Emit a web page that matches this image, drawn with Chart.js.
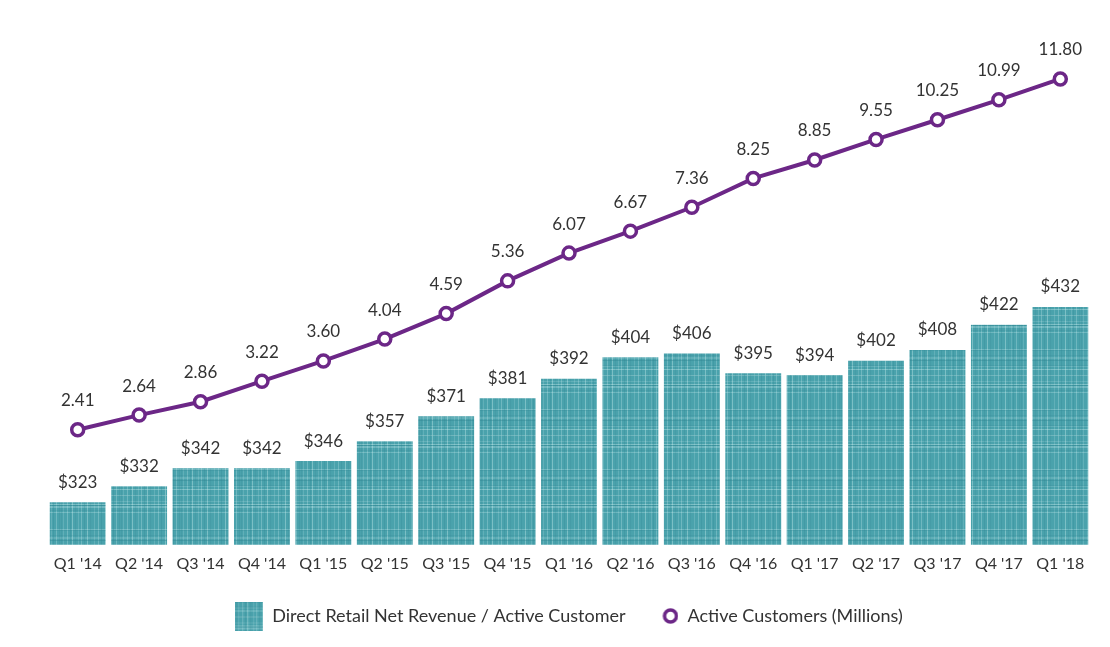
<!DOCTYPE html>
<html lang="en">
<head>
    <meta charset="UTF-8">
    <title>Revenue per Active Customer</title>
    <script src="https://cdn.jsdelivr.net/npm/chart.js"></script>
    <style>
        body { margin: 0; background: #fff; }
    </style>
</head>
<body>
    <canvas id="mainChart" width="1110" height="647"></canvas>

    <script>
        // Data
        var quarters = ["Q1 '14", "Q2 '14", "Q3 '14", "Q4 '14", "Q1 '15", "Q2 '15", "Q3 '15", "Q4 '15",
                        "Q1 '16", "Q2 '16", "Q3 '16", "Q4 '16", "Q1 '17", "Q2 '17", "Q3 '17", "Q4 '17", "Q1 '18"];
        var revenuePerCustomer = [323, 332, 342, 342, 346, 357, 371, 381, 392, 404, 406, 395, 394, 402, 408, 422, 432];
        var activeCustomers = [2.41, 2.64, 2.86, 3.22, 3.60, 4.04, 4.59, 5.36, 6.07, 6.67, 7.36, 8.25, 8.85, 9.55, 10.25, 10.99, 11.80];

        var TEAL = '#4aa2ac';
        var PURPLE = '#6c2787';
        var FONT = 'Lato, "Open Sans", sans-serif';

        // power scale (v^0.4): the customer line in the original is compressed at the top like this
        var EXP = 0.4;
        class PowerScale extends Chart.LinearScale {
            getPixelForValue(v) {
                var a = Math.pow(this.min, EXP), b = Math.pow(this.max, EXP);
                return this.getPixelForDecimal((Math.pow(Math.max(v, 0), EXP) - a) / (b - a));
            }
            getValueForPixel(p) {
                var a = Math.pow(this.min, EXP), b = Math.pow(this.max, EXP);
                return Math.pow(a + this.getDecimalForPixel(p) * (b - a), 1 / EXP);
            }
        }
        PowerScale.id = 'power';
        PowerScale.defaults = {};
        Chart.register(PowerScale);

        // woven texture for the bars
        function makeWeave(size) {
            var c = document.createElement('canvas');
            c.width = size; c.height = size;
            var g = c.getContext('2d');
            g.fillStyle = TEAL;
            g.fillRect(0, 0, size, size);
            var light = [3, 7, 12, 18, 21, 27, 34, 38, 45, 51, 56];
            var dark = [1, 10, 15, 24, 30, 41, 48, 53, 59];
            light.forEach(function (p, i) {
                g.fillStyle = 'rgba(205,238,240,' + (0.18 + (i % 3) * 0.1) + ')';
                if (p < size) { g.fillRect(p, 0, 1, size); g.fillRect(0, (p * 7) % size, size, 1); }
            });
            dark.forEach(function (p, i) {
                g.fillStyle = 'rgba(45,130,142,' + (0.15 + (i % 2) * 0.1) + ')';
                if (p < size) { g.fillRect(p, 0, 1, size); g.fillRect(0, (p * 5) % size, size, 1); }
            });
            return c;
        }
        var weave = makeWeave(60);
        var ctx = document.getElementById('mainChart').getContext('2d');
        var barPattern = ctx.createPattern(weave, 'repeat');

        // legend markers (28px wide so the text lines up after both)
        var barIcon = document.createElement('canvas');
        barIcon.width = 28; barIcon.height = 29;
        barIcon.getContext('2d').drawImage(weave, 0, 0);
        var dotIcon = document.createElement('canvas');
        dotIcon.width = 28; dotIcon.height = 18;
        (function () {
            var g = dotIcon.getContext('2d');
            g.beginPath();
            g.arc(20, 9, 6, 0, Math.PI * 2);
            g.fillStyle = '#fff';
            g.fill();
            g.lineWidth = 3.5;
            g.strokeStyle = PURPLE;
            g.stroke();
        })();

        // value labels above bars and points
        var valueLabels = {
            id: 'valueLabels',
            afterDatasetsDraw: function (chart) {
                var c = chart.ctx;
                c.save();
                c.font = '17px ' + FONT;
                c.fillStyle = '#333';
                c.textAlign = 'center';
                c.textBaseline = 'middle';
                chart.getDatasetMeta(1).data.forEach(function (bar, i) {
                    c.fillText('$' + revenuePerCustomer[i], bar.x, bar.y - 20);
                });
                chart.getDatasetMeta(0).data.forEach(function (pt, i) {
                    c.fillText(activeCustomers[i].toFixed(2), pt.x, pt.y - 29);
                });
                c.restore();
            }
        };

        var myChart = new Chart(ctx, {
            type: 'bar',
            data: {
                labels: quarters,
                datasets: [{
                    type: 'line',
                    label: 'Active Customers (Millions)',
                    data: activeCustomers,
                    yAxisID: 'yLine',
                    borderColor: PURPLE,
                    borderWidth: 4,
                    pointRadius: 6,
                    pointHoverRadius: 6,
                    pointBorderWidth: 3.5,
                    pointBackgroundColor: '#fff',
                    pointBorderColor: PURPLE,
                    tension: 0,
                    order: 0
                }, {
                    label: 'Direct Retail Net Revenue / Active Customer',
                    data: revenuePerCustomer,
                    yAxisID: 'yBar',
                    backgroundColor: barPattern,
                    categoryPercentage: 1,
                    barPercentage: 0.91,
                    order: 1
                }]
            },
            options: {
                responsive: false,
                animation: false,
                layout: { padding: { left: 47, right: 19, top: 30, bottom: 12 } },
                scales: {
                    x: {
                        grid: { display: false, drawTicks: false },
                        border: { display: false },
                        ticks: { color: '#333', font: { family: FONT, size: 16 }, padding: 9 }
                    },
                    yBar: { display: false, min: 299.3, max: 586.5 },
                    yLine: { type: 'power', display: false, min: 1.02, max: 13.83 }
                },
                plugins: {
                    tooltip: { enabled: false },
                    legend: {
                        position: 'bottom',
                        reverse: true,
                        labels: {
                            usePointStyle: true,
                            pointStyleWidth: 28,
                            color: '#333',
                            font: { family: FONT, size: 18 },
                            padding: 25,
                            generateLabels: function (chart) {
                                var items = Chart.defaults.plugins.legend.labels.generateLabels(chart);
                                items.forEach(function (it) {
                                    it.pointStyle = it.datasetIndex === 1 ? barIcon : dotIcon;
                                });
                                return items;
                            }
                        }
                    }
                }
            },
            plugins: [valueLabels]
        });
    </script>
</body>
</html>
